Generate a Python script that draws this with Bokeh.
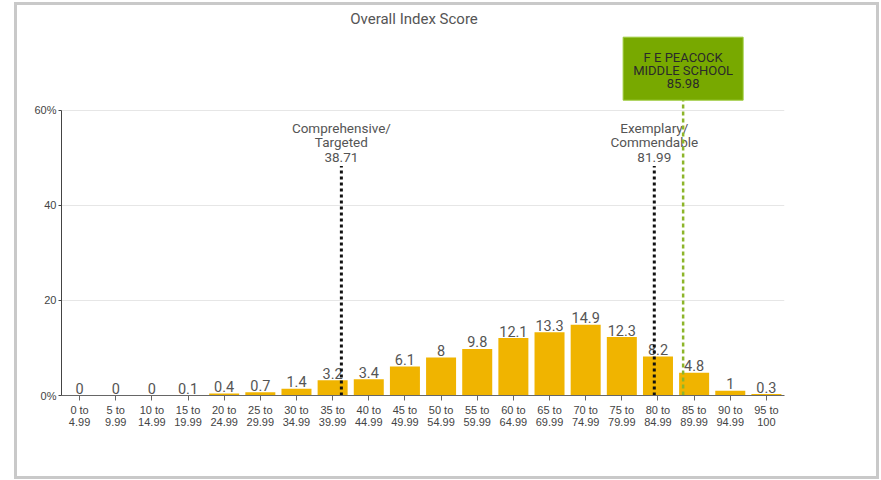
from bokeh.plotting import figure
from bokeh.layouts import column
from bokeh.models import Range1d, FixedTicker
from bokeh.core.properties import value
from bokeh.embed import file_html
from bokeh.resources import INLINE

# ---------------- data ----------------
bin_lo = [0, 5, 10, 15, 20, 25, 30, 35, 40, 45, 50, 55, 60, 65, 70, 75, 80, 85, 90, 95]
bin_labels = ["0 to\n4.99", "5 to\n9.99", "10 to\n14.99", "15 to\n19.99", "20 to\n24.99",
              "25 to\n29.99", "30 to\n34.99", "35 to\n39.99", "40 to\n44.99", "45 to\n49.99",
              "50 to\n54.99", "55 to\n59.99", "60 to\n64.99", "65 to\n69.99", "70 to\n74.99",
              "75 to\n79.99", "80 to\n84.99", "85 to\n89.99", "90 to\n94.99", "95 to\n100"]
pct = [0, 0, 0, 0.1, 0.4, 0.7, 1.4, 3.2, 3.4, 6.1, 8, 9.8, 12.1, 13.3, 14.9, 12.3, 8.2, 4.8, 1, 0.3]
threshold_scores = [38.71, 81.99]
threshold_names = ["Comprehensive/\nTargeted", "Exemplary/\nCommendable"]
school_name = "F E PEACOCK\nMIDDLE SCHOOL"
school_score = 85.98
y_ticks = [0, 20, 40, 60]
y_tick_labels = ["0%", "20", "40", "60%"]
title_text = "Overall Index Score"

# ---------------- styling / layout constants ----------------
BIN_W = 5
BAR_W = 4.15
Y_TOP = 82.1           # top of the frame in data units (room for title and badge)
TITLE_Y = 79.2
THRESH_TEXT_Y = 53.3
THRESH_LINE_TOP = 48.3
BADGE_Y = 68.8
BADGE_BOTTOM = 62.2
BAR_COLOR = "#F0B400"
GREEN = "#78A900"

centers = [lo + BIN_W / 2 for lo in bin_lo]
bar_text = [("%g" % v) for v in pct]

p = figure(width=859, height=471, output_backend="svg", toolbar_location=None,
           x_range=Range1d(0, 100), y_range=Range1d(0, Y_TOP),
           min_border_left=44, min_border_right=92, min_border_top=0, min_border_bottom=81,
           background_fill_color="white", border_fill_color="white")
p.outline_line_color = None

# axes
p.xaxis.ticker = FixedTicker(ticks=centers)
p.xaxis.major_label_overrides = {c: l for c, l in zip(centers, bin_labels)}
p.xaxis.major_label_text_font = "Liberation Sans"
p.xaxis.major_label_text_font_size = "11px"
p.xaxis.major_label_text_color = "#444444"
p.xaxis.major_label_text_line_height = 1.0
p.xaxis.major_label_standoff = 3
p.xaxis.major_tick_out = 5
p.xaxis.major_tick_in = 0
p.xaxis.minor_tick_line_color = None
p.xaxis.axis_line_color = "#666666"
p.xaxis.major_tick_line_color = "#666666"

p.yaxis.ticker = FixedTicker(ticks=y_ticks)
p.yaxis.major_label_overrides = {t: l for t, l in zip(y_ticks, y_tick_labels)}
p.yaxis.bounds = (0, 60)
p.yaxis.major_label_text_font = "Liberation Sans"
p.yaxis.major_label_text_font_size = "11px"
p.yaxis.major_label_text_color = "#444444"
p.yaxis.major_label_standoff = 2
p.yaxis.major_tick_out = 3
p.yaxis.major_tick_in = 0
p.yaxis.minor_tick_line_color = None
p.yaxis.axis_line_color = "#444444"
p.yaxis.major_tick_line_color = "#444444"

p.xgrid.grid_line_color = None
p.ygrid.ticker = FixedTicker(ticks=[20, 40, 60])
p.ygrid.grid_line_color = "#e6e6e6"
p.ygrid.bounds = (0, 60)

# title
p.text(x=[50], y=[TITLE_Y], text=[title_text], text_align="center", text_baseline="middle",
       text_font=value("Roboto"), text_font_size="15px", text_color="#555555",
       x_offset=-9)

# bars
p.vbar(x=centers, top=pct, bottom=0, width=BAR_W, fill_color=BAR_COLOR, line_color=None)
p.text(x=centers, y=pct, text=bar_text, text_align="center", text_baseline="alphabetic",
       y_offset=-7, text_font=value("Roboto"), text_font_size="14.5px", text_color="#555555")

# threshold lines
p.segment(x0=threshold_scores, x1=threshold_scores, y0=0, y1=THRESH_LINE_TOP,
          line_color="#111111", line_width=3, line_dash="3 3")
p.text(x=threshold_scores, y=[THRESH_TEXT_Y] * len(threshold_scores),
       text=["%s\n%s" % (n, s) for n, s in zip(threshold_names, threshold_scores)],
       text_align="center", text_baseline="middle", text_line_height=0.9,
       text_font=value("Roboto"), text_font_size="13.5px", text_color="#555555")

# school marker
p.segment(x0=[school_score], x1=[school_score], y0=0, y1=BADGE_BOTTOM,
          line_color="#8DB52A", line_width=2.5, line_dash="4 3")
p.rect(x=[school_score], y=[BADGE_Y], width=120, height=63, width_units="screen",
       height_units="screen", fill_color=GREEN, line_color="#9CCB3A", line_width=1)
p.text(x=[school_score], y=[BADGE_Y], text=["%s\n%s" % (school_name, school_score)],
       text_align="center", text_baseline="middle", text_line_height=0.85,
       y_offset=2, text_font=value("Roboto"), text_font_size="13px", text_color="#2a2a2a")

layout = column(p, styles={"margin-left": "14px", "margin-top": "2px",
                           "border": "3px solid #c9c9c9", "background-color": "white"})

open("out.html", "w").write(file_html(layout, INLINE))
